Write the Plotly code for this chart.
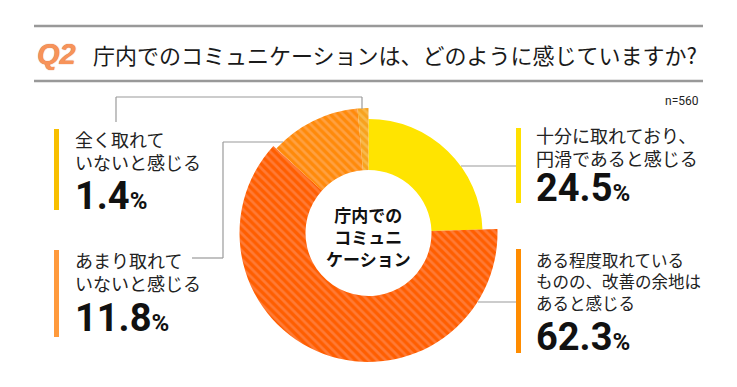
import plotly.graph_objects as go

W, H = 737, 387

# ---- data ----
categories = ["十分に取れており、円滑であると感じる",
              "ある程度取れているものの、改善の余地はあると感じる",
              "あまり取れていないと感じる",
              "全く取れていないと感じる"]
values = [24.5, 62.3, 11.8, 1.4]
label_lines = [["十分に取れており、", "円滑であると感じる"],
               ["ある程度取れている", "ものの、改善の余地は", "あると感じる"],
               ["あまり取れて", "いないと感じる"],
               ["全く取れて", "いないと感じる"]]
n_text = "n=560"
title_q = "Q2"
title_text = "庁内でのコミュニケーションは、どのように感じていますか?"
center_lines = ["庁内での", "コミュニ", "ケーション"]

# ---- styles ----
slice_colors = ["#ffe400", "#ff5e00", "#ff8a0a", "#f7a21e"]
stripe_colors = [None, "#ff7a35", "#ffa040", "#f9b84a"]
outer_r = [114, 129, 125, 125]
inner_r = 63
bar_colors = ["#ffe000", "#ff8c00", "#ff9a3c", "#f8bf00"]
FONT = "Noto Sans CJK JP"
NUMFONT = "Roboto"

cx, cy, R = 368.5, 233, 130


def px(x):
    return x / W


def py(y):
    return 1 - y / H


# angular positions from data
starts = []
acc = 0
for v in values:
    starts.append(acc)
    acc += v
thetas = [(s + v / 2) * 3.6 for s, v in zip(starts, values)]
widths = [v * 3.6 for v in values]

fig = go.Figure()
for i in range(len(values)):
    marker = dict(color=slice_colors[i], line=dict(width=0))
    if stripe_colors[i]:
        marker["pattern"] = dict(shape="\\", fgcolor=stripe_colors[i],
                                 bgcolor=slice_colors[i], size=6, solidity=0.45,
                                 fillmode="replace")
    fig.add_trace(go.Barpolar(
        r=[outer_r[i] - inner_r], base=[inner_r], theta=[thetas[i]],
        width=[widths[i]], marker=marker, name=categories[i],
        showlegend=False, hoverinfo="skip"))

fig.update_layout(
    width=W, height=H, margin=dict(l=0, r=0, t=0, b=0),
    paper_bgcolor="white", plot_bgcolor="white",
    polar=dict(
        domain=dict(x=[px(cx - R), px(cx + R)], y=[py(cy + R), py(cy - R)]),
        bgcolor="rgba(0,0,0,0)",
        radialaxis=dict(range=[0, R], visible=False),
        angularaxis=dict(direction="clockwise", rotation=90, visible=False),
        bargap=0,
    ),
)

shapes = []
line_col = "#9a9a9a"


def hline(x0, x1, y, w=1.2, c=line_col):
    shapes.append(dict(type="line", xref="paper", yref="paper",
                       x0=px(x0), x1=px(x1), y0=py(y), y1=py(y),
                       line=dict(color=c, width=w)))


def vline(x, y0, y1, w=1.2, c=line_col):
    shapes.append(dict(type="line", xref="paper", yref="paper",
                       x0=px(x), x1=px(x), y0=py(y0), y1=py(y1),
                       line=dict(color=c, width=w)))


def rect(x0, x1, y0, y1, c):
    shapes.append(dict(type="rect", xref="paper", yref="paper",
                       x0=px(x0), x1=px(x1), y0=py(y0), y1=py(y1),
                       fillcolor=c, line=dict(width=0)))


# title rules
hline(34, 703, 26, w=2.5, c="#999999")
hline(34, 703, 81, w=2.5, c="#999999")

# leader lines
hline(461, 516, 166)            # yellow
hline(478, 516, 302)            # red
vline(362, 97, 109)             # 1.4%
hline(116, 362, 97)
vline(116, 97, 122)
hline(223, 283, 142)            # 11.8%
vline(223, 142, 258)
hline(192, 223, 258)

# color bars beside labels
rect(516, 521, 128, 203, bar_colors[0])
rect(516, 521, 249, 353, bar_colors[1])
rect(54, 59, 250, 337, bar_colors[2])
rect(54, 59, 129, 210, bar_colors[3])

fig.update_layout(shapes=shapes)

ann = []


def text(x, y, s, size, color="#222222", family=FONT, xanchor="left", yanchor="middle", align="left"):
    ann.append(dict(xref="paper", yref="paper", x=px(x), y=py(y), text=s,
                    showarrow=False, xanchor=xanchor, yanchor=yanchor, align=align,
                    font=dict(size=size, color=color, family=family)))


# title
ann.append(dict(xref="paper", yref="paper", x=px(35), y=py(54), text="<b><i>" + title_q + "</i></b>",
                showarrow=False, xanchor="left", yanchor="middle",
                font=dict(size=29, color="#f7935a", family="Liberation Sans",
                          shadow="0 0 1px #c8561c")))
text(91, 54, title_text, 22, color="#1a1a1a")
text(701, 101, n_text, 12, color="#222222", family=NUMFONT, xanchor="right", align="right")

# center text (one block)
text(cx, 236.5, "<br>".join("<b>" + s + "</b>" for s in center_lines), 17,
     color="#111111", xanchor="center", align="center")

# labels: (x, center y of text block, font size, y of number)
label_pos = [(534, 146.5, 18, 188), (534, 281.5, 16.5, 337), (73, 271.5, 18, 318), (73, 150.5, 18, 196)]
for i, (x, yc, fs, ynum) in enumerate(label_pos):
    text(x, yc, "<br>".join(label_lines[i]), fs)
    num = f"{values[i]:.1f}"
    text(x, ynum, "<b>" + num + "</b><span style='font-size:24px'><b>%</b></span>", 38,
         color="#111111", family=NUMFONT)

fig.update_layout(annotations=ann)

fig.write_html("out.html", config={"displayModeBar": False},
               post_script="document.body.style.margin='0';document.body.style.padding='0';")
